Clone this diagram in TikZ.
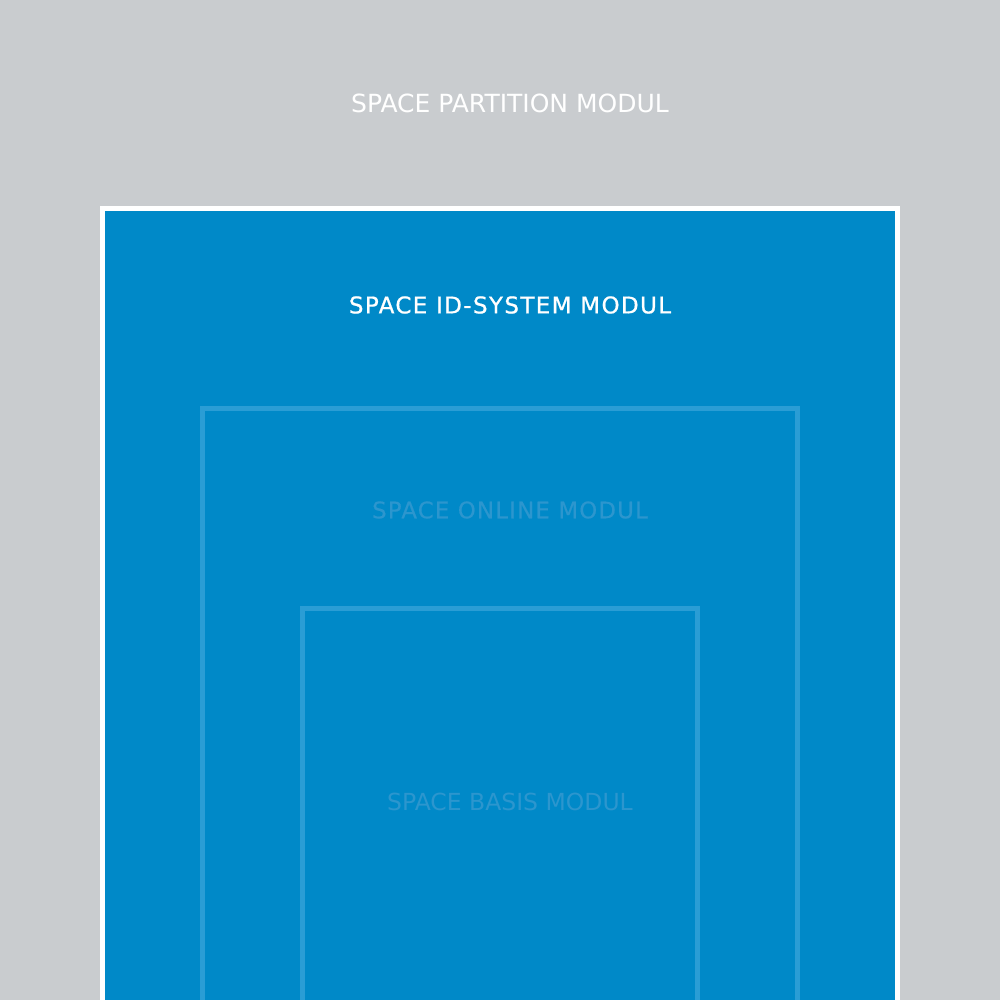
\documentclass[tikz,border=0pt]{standalone}
\usepackage{fontspec}
\setmainfont{DejaVu Sans}
\definecolor{bggray}{RGB}{201,204,207}
\definecolor{mblue}{RGB}{0,137,200}
\definecolor{lblue}{RGB}{42,157,213}
\definecolor{ftext}{RGB}{44,150,206}
\tikzset{
  lbl/.style={inner sep=0pt, anchor=center},
  frame/.style={draw=lblue, line width=5pt},
}
\begin{document}
\begin{tikzpicture}[x=1pt,y=-1pt]
\useasboundingbox (0,0) rectangle (1000,1000);
\fill[bggray] (0,0) rectangle (1000,1000);
\path[fill=mblue, draw=white, line width=5pt] (102.5,208.5) rectangle (897.5,1010);
\draw[frame] (202.5,408.5) rectangle (797.5,1010);
\draw[frame] (302.5,608.5) rectangle (697.5,1010);
\node[lbl, text=white, font={\fontsize{25}{30}\selectfont}] (partition) at (510,103.5) {SPACE PARTITION MODUL};
\node[lbl, text=white, font={\fontsize{23}{27}\selectfont\addfontfeature{LetterSpace=6,FakeBold=0.8}}] (idsystem) at (510,305) {SPACE ID-SYSTEM MODUL};
\node[lbl, text=ftext, font={\fontsize{22.8}{27}\selectfont\addfontfeature{LetterSpace=5.4,FakeBold=0.6}}] (online) at (510,510) {SPACE ONLINE MODUL};
\node[lbl, text=ftext, font={\fontsize{23.5}{28}\selectfont}] (basis) at (510,802) {SPACE BASIS MODUL};
\end{tikzpicture}
\end{document}
